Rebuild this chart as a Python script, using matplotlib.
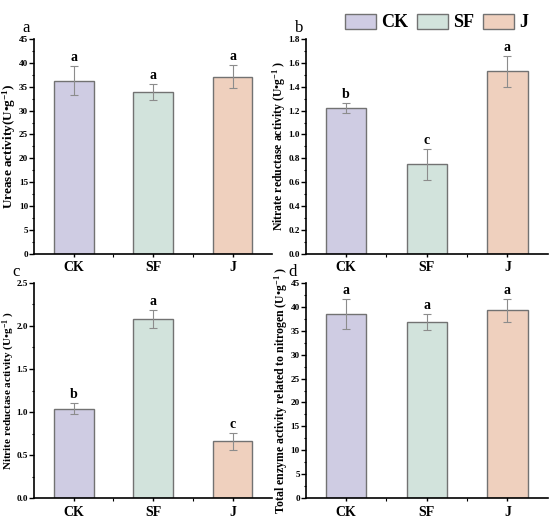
import numpy as np
import matplotlib.pyplot as plt
from matplotlib.patches import Patch
from matplotlib.ticker import MultipleLocator, AutoMinorLocator, FormatStrFormatter

plt.rcParams['font.family'] = ['Liberation Serif', 'DejaVu Serif']
plt.rcParams['mathtext.fontset'] = 'custom'
plt.rcParams['mathtext.rm'] = 'Liberation Serif'
plt.rcParams['mathtext.bf'] = 'Liberation Serif:bold'
plt.rcParams['mathtext.default'] = 'bf'

# data
groups = ['CK', 'SF', 'J']
colors = ['#cfcce3', '#d2e3dc', '#efd0be']

urease = [36.3, 33.9, 37.1]
urease_err = [3.1, 1.6, 2.35]
urease_sig = ['a', 'a', 'a']

nitrate = [1.22, 0.75, 1.53]
nitrate_err = [0.04, 0.13, 0.13]
nitrate_sig = ['b', 'c', 'a']

nitrite = [1.04, 2.08, 0.66]
nitrite_err = [0.06, 0.10, 0.10]
nitrite_sig = ['b', 'a', 'c']

total = [38.5, 36.8, 39.3]
total_err = [3.2, 1.7, 2.4]
total_sig = ['a', 'a', 'a']

fig = plt.figure(figsize=(5.5, 5.2), dpi=100)

panels = [
    ('a', -0.05, -0.067, [0.062, 0.512, 0.433, 0.413], urease, urease_err, urease_sig,
     'Urease activity(U\u2022g$^{-1}$)', 9.5, 45, 5, '%d'),
    ('b', -0.045, -0.074, [0.556, 0.512, 0.440, 0.413], nitrate, nitrate_err, nitrate_sig,
     'Nitrate reductase activity (U\u2022g$^{-1}$ )', 8.5, 1.8, 0.2, '%.1f'),
    ('c', -0.09, -0.072, [0.062, 0.042, 0.433, 0.414], nitrite, nitrite_err, nitrite_sig,
     'Nitrite reductase activity (U\u2022g$^{-1}$ )', 8.0, 2.5, 0.5, '%.1f'),
    ('d', -0.07, -0.066, [0.556, 0.042, 0.440, 0.414], total, total_err, total_sig,
     'Total enzyme activity related to nitrogen (U\u2022g$^{-1}$ )', 8.5, 45, 5, '%d'),
]

x = np.arange(len(groups))
for letter, lx, labx, rect, vals, errs, sig, ylab, lsize, ymax, step, fmt in panels:
    ax = fig.add_axes(rect)
    ax.bar(x, vals, width=0.5, color=colors, edgecolor='#727272', linewidth=1.0, zorder=2)
    ax.errorbar(x, vals, yerr=errs, fmt='none', ecolor='#8c8c8c', elinewidth=0.8,
                capsize=3, capthick=0.8, zorder=3)
    for xi, v, e, s in zip(x, vals, errs, sig):
        ax.text(xi, v + e + ymax * 0.01, s, ha='center', va='bottom',
                fontsize=10, fontweight='bold')
    ax.set_xlim(-0.5, 2.5)
    ax.set_ylim(0, ymax)
    ax.yaxis.set_major_locator(MultipleLocator(step))
    ax.yaxis.set_minor_locator(AutoMinorLocator(2))
    ax.yaxis.set_major_formatter(FormatStrFormatter(fmt))
    ax.set_xticks(x)
    ax.set_xticklabels(groups, fontsize=10, fontweight='bold')
    ax.set_xticks([0.5, 1.5], minor=True)
    for t in ax.get_yticklabels():
        t.set_fontweight('bold')
        t.set_fontsize(6.6)
    ax.tick_params(axis='y', which='major', length=3.5, width=1, pad=0.8)
    ax.tick_params(axis='y', which='minor', length=1.8, width=0.8)
    ax.tick_params(axis='x', which='major', direction='inout', length=5, width=1, pad=3)
    ax.tick_params(axis='x', which='minor', direction='out', length=2.5, width=0.8)
    ax.spines['top'].set_visible(False)
    ax.spines['right'].set_visible(False)
    ax.spines['left'].set_linewidth(1.2)
    ax.spines['bottom'].set_linewidth(1.2)
    ax.set_ylabel(ylab, fontsize=lsize, fontweight='bold')
    ax.yaxis.set_label_coords(labx, 0.5)
    ax.text(lx, 1.015, letter, transform=ax.transAxes, fontsize=12,
            ha='left', va='bottom')

handles = [Patch(facecolor=c, edgecolor='#727272', linewidth=1.0) for c in colors]
fig.legend(handles, groups, loc='upper right', bbox_to_anchor=(0.99, 1.005), ncol=3,
           frameon=False, prop={'weight': 'bold', 'size': 13}, handlelength=1.7,
           handleheight=0.9, columnspacing=0.5, handletextpad=0.3)

fig.savefig('out.png', dpi=100)
